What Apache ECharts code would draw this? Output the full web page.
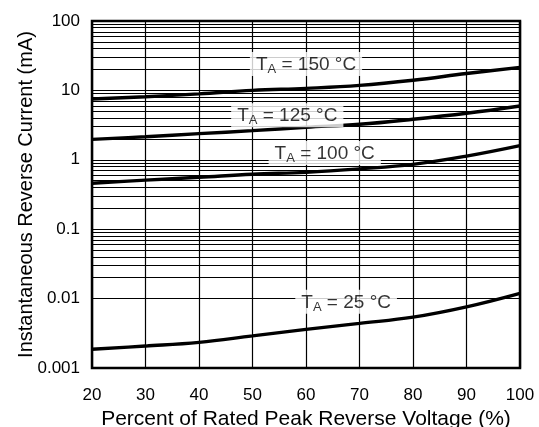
<!DOCTYPE html>
<html><head><meta charset="utf-8">
<script src="https://cdn.jsdelivr.net/npm/echarts@6/dist/echarts.min.js"></script>
<style>html,body{margin:0;padding:0;background:#fff}#c{width:539px;height:427px}</style>
</head><body><div id="c"></div>
<script>
const xValues = [20, 30, 40, 50, 60, 70, 80, 90, 100];
const t150 = [7.5, 8.1, 8.9, 10.0, 10.7, 11.8, 14.0, 17.5, 21.5];
const t125 = [1.97, 2.15, 2.38, 2.63, 2.94, 3.25, 3.84, 4.68, 5.96];
const t100 = [0.46, 0.51, 0.56, 0.62, 0.66, 0.74, 0.86, 1.13, 1.6];
const t25 = [0.00186, 0.00207, 0.00234, 0.0029, 0.0036, 0.0044, 0.0054, 0.0076, 0.0119];
const curveNames = ['150', '125', '100', '25'];
const labelX = [60, 56.5, 63.5, 67.5];
const labelY = [24, 4.4, 1.25, 0.009];
const decades = [0.001, 0.01, 0.1, 1, 10];
const yTickLabels = ['0.001', '0.01', '0.1', '1', '10', '100'];

const minorVals = [];
decades.forEach(d => { for (let m = 2; m <= 9; m++) minorVals.push(+(d * m).toPrecision(3)); });

const font = 'Liberation Sans, Arial, Helvetica, sans-serif';
const curves = [t150, t125, t100, t25];

const series = [];
series.push({
  type: 'line', data: [], z: 1, silent: true,
  markLine: {
    silent: true, symbol: 'none', label: { show: false },
    lineStyle: { color: '#000', width: 1.2, type: 'solid' },
    animation: false,
    data: minorVals.map(v => ({ yAxis: v }))
  }
});
curves.forEach((arr) => {
  series.push({
    type: 'line', smooth: 0.4, showSymbol: false, z: 3,
    lineStyle: { color: '#000', width: 3.4 },
    data: xValues.map((x, i) => [x, arr[i]])
  });
});
series.push({
  type: 'scatter', symbolSize: 0, z: 10,
  data: labelX.map((x, i) => ({
    value: [x, labelY[i]],
    label: {
      show: true, position: 'inside',
      formatter: '{t|T}{s|A}{t| = ' + curveNames[i] + ' °C}',
      backgroundColor: '#fff', padding: [2, 6, 0, 6],
      rich: {
        t: { fontSize: 19, fontFamily: font, color: '#000', lineHeight: 22 },
        s: { fontSize: 13, fontFamily: font, color: '#000', verticalAlign: 'bottom', lineHeight: 22, padding: [11, 0, 0, 0] }
      }
    }
  }))
});

const chart = echarts.init(document.getElementById('c'));
chart.setOption({
  animation: false,
  grid: { left: 92, right: 19, top: 21, bottom: 59, show: true, borderColor: '#000', borderWidth: 2.5,
    backgroundColor: 'transparent', containLabel: false, outerBoundsMode: 'none' },
  xAxis: {
    type: 'value', min: 20, max: 100, interval: 10,
    name: 'Percent of Rated Peak Reverse Voltage (%)', nameLocation: 'middle', nameGap: 41, nameMoveOverlap: false,
    nameTextStyle: { fontSize: 21, fontFamily: font, color: '#000' },
    axisLine: { show: false }, axisTick: { show: false },
    axisLabel: { fontSize: 17, fontFamily: font, color: '#000', margin: 19 },
    splitLine: { show: true, lineStyle: { color: '#000', width: 1.2 } }
  },
  yAxis: {
    type: 'log', logBase: 10, min: 0.001, max: 100,
    name: 'Instantaneous Reverse Current (mA)', nameLocation: 'middle', nameGap: 56, nameMoveOverlap: false,
    nameTextStyle: { fontSize: 20, fontFamily: font, color: '#000' },
    axisLine: { show: false }, axisTick: { show: false },
    axisLabel: { fontSize: 17, fontFamily: font, color: '#000', margin: 12,
      formatter: (v) => { const e = Math.round(Math.log10(v)); return yTickLabels[e + 3]; } },
    splitLine: { show: true, lineStyle: { color: '#000', width: 1.2 } },
    minorTick: { show: false }, minorSplitLine: { show: false }
  },
  series: series
});
</script></body></html>
